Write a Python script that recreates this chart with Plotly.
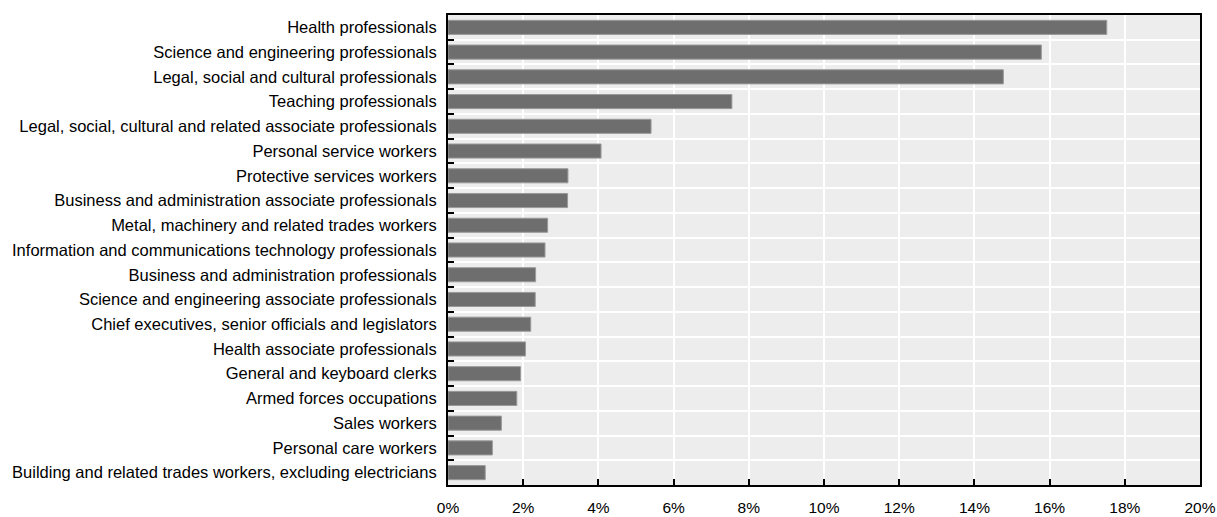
import plotly.graph_objects as go

categories = [
    "Health professionals",
    "Science and engineering professionals",
    "Legal, social and cultural professionals",
    "Teaching professionals",
    "Legal, social, cultural and related associate professionals",
    "Personal service workers",
    "Protective services workers",
    "Business and administration associate professionals",
    "Metal, machinery and related trades workers",
    "Information and communications technology professionals",
    "Business and administration professionals",
    "Science and engineering associate professionals",
    "Chief executives, senior officials and legislators",
    "Health associate professionals",
    "General and keyboard clerks",
    "Armed forces occupations",
    "Sales workers",
    "Personal care workers",
    "Building and related trades workers, excluding electricians",
]
values = [17.52, 15.78, 14.77, 7.55, 5.40, 4.07, 3.19, 3.18, 2.65, 2.58,
          2.33, 2.32, 2.20, 2.06, 1.93, 1.83, 1.42, 1.18, 0.99]
x_ticks = [0, 2, 4, 6, 8, 10, 12, 14, 16, 18, 20]
x_tick_text = [f"{v}%" for v in x_ticks]

fig = go.Figure(go.Bar(
    x=values,
    y=categories,
    orientation="h",
    marker=dict(color="#6e6e6e", line=dict(color="#9a9a9a", width=1)),
    hoverinfo="x+y",
))

font = "Arial, Liberation Sans, sans-serif"
fs = 16.5
fig.update_layout(
    width=1217, height=517,
    margin=dict(l=448, r=17, t=15, b=32, autoexpand=False),
    paper_bgcolor="white",
    plot_bgcolor="#ededed",
    bargap=0.43,
    showlegend=False,
    font=dict(family=font, size=fs, color="#000000"),
)
fig.update_xaxes(
    range=[0, 20],
    tickmode="array",
    tickvals=x_ticks,
    ticktext=x_tick_text,
    showgrid=True, gridcolor="white", gridwidth=2,
    zeroline=False,
    showline=True, linecolor="black", linewidth=2, mirror=True,
    ticks="inside", ticklen=6, tickcolor="black", tickwidth=2,
    ticklabelstandoff=7,
    tickfont=dict(family=font, size=15.5, color="#000"),
)
fig.update_yaxes(
    type="category",
    autorange="reversed",
    tickson="boundaries",
    showgrid=True, gridcolor="white", gridwidth=2,
    showline=True, linecolor="black", linewidth=2, mirror=True,
    ticks="inside", ticklen=6, tickcolor="black", tickwidth=2,
    ticklabelstandoff=6,
    tickfont=dict(family=font, size=fs, color="#000"),
)

fig.write_html(
    "out.html",
    config={"displayModeBar": False},
    post_script="document.body.style.margin='0';"
                "document.documentElement.style.overflow='hidden';",
)
